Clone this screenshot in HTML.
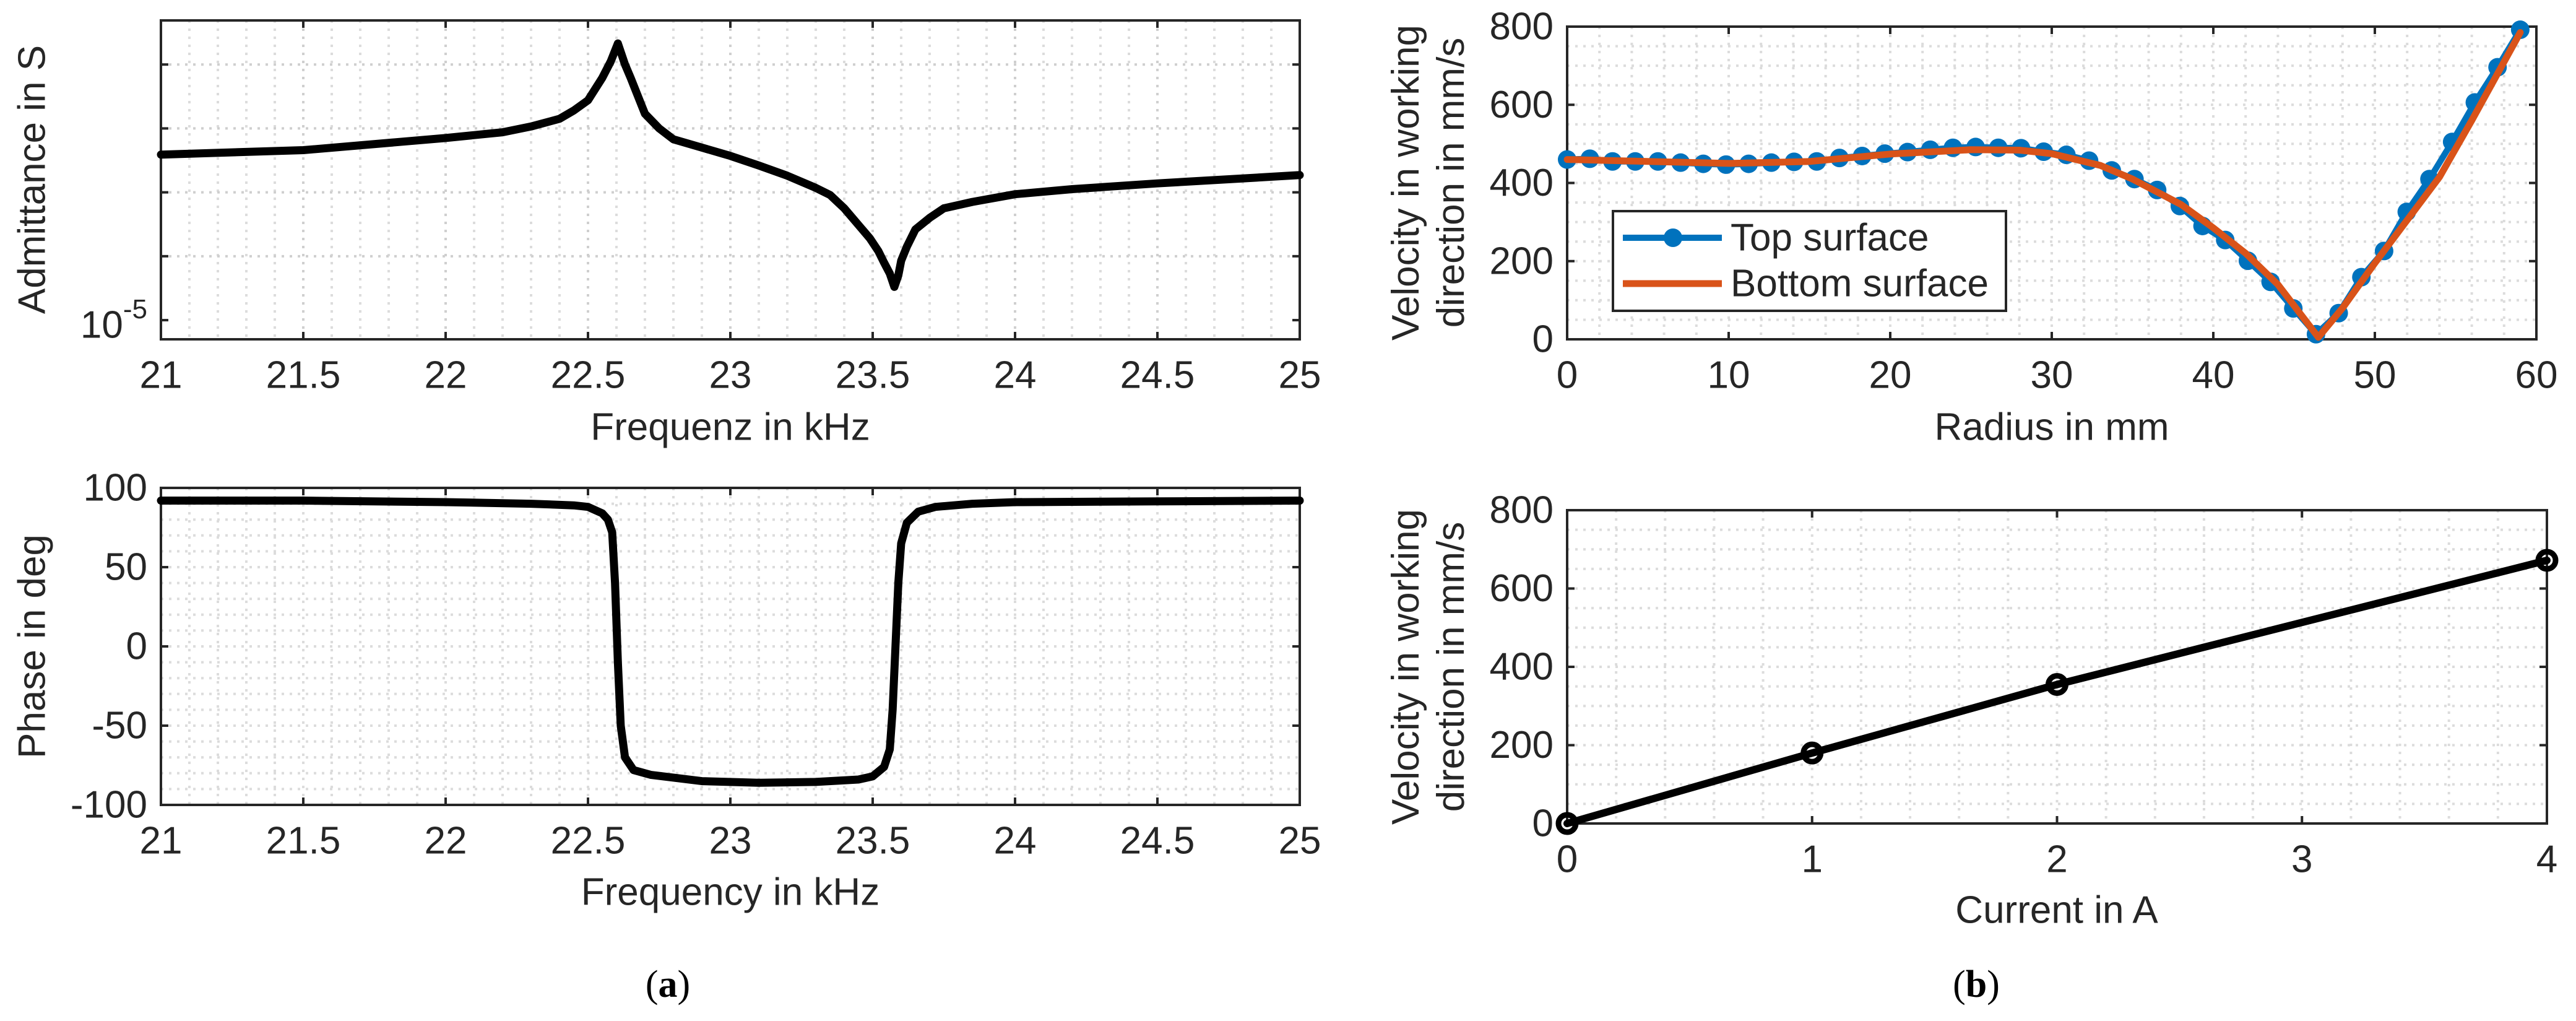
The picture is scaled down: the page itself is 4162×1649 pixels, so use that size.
<!DOCTYPE html>
<html><head><meta charset="utf-8">
<style>
html,body{margin:0;padding:0;background:#fff;}
svg{display:block;font-family:"Liberation Sans",Arial,sans-serif;}
</style></head>
<body>
<svg id="fig" width="4162" height="1649" viewBox="0 0 4162 1649" xmlns="http://www.w3.org/2000/svg"></svg>
<script>
// ---- Data: admittance (log10 of S) ----
const admFreq = [21, 21.5, 22, 22.2, 22.3, 22.4, 22.45, 22.5, 22.55, 22.58, 22.605, 22.63, 22.65, 22.7, 22.75, 22.8, 22.9, 23, 23.1, 23.2, 23.3, 23.35, 23.4, 23.45, 23.49, 23.52, 23.54, 23.56, 23.576, 23.59, 23.6, 23.62, 23.65, 23.7, 23.75, 23.85, 24, 24.2, 24.5, 25];
const admLog = [-4.741, -4.734, -4.715, -4.706, -4.697, -4.685, -4.672, -4.656, -4.621, -4.595, -4.567, -4.600, -4.621, -4.677, -4.700, -4.717, -4.730, -4.743, -4.758, -4.774, -4.793, -4.804, -4.825, -4.851, -4.872, -4.892, -4.910, -4.927, -4.948, -4.930, -4.907, -4.885, -4.858, -4.840, -4.825, -4.815, -4.803, -4.795, -4.786, -4.773];
// ---- Data: phase (deg) ----
const phFreq = [21, 21.5, 22, 22.3, 22.45, 22.5, 22.55, 22.57, 22.585, 22.595, 22.605, 22.615, 22.63, 22.66, 22.72, 22.9, 23.1, 23.3, 23.45, 23.5, 23.54, 23.56, 23.57, 23.58, 23.59, 23.6, 23.62, 23.66, 23.72, 23.85, 24, 24.5, 25];
const phVal = [92, 92, 91, 90, 89, 88, 84, 80, 72, 40, -10, -50, -70, -78, -81, -85, -86, -85.5, -84, -82, -76, -65, -40, 0, 40, 65, 78, 85, 88, 90, 91, 91.5, 92];
// ---- Data: velocity vs radius ----
const topR = [];
for (let i = 0; i < 43; i++) topR.push(i * 59 / 42);
const topV = [460, 462, 455, 455, 455, 452, 449, 447, 449, 452, 454, 455, 464, 469, 475, 479, 485, 490, 492, 490, 489, 480, 472, 457, 432, 410, 382, 341, 290, 254, 201, 147, 79, 13, 67, 159, 226, 326, 410, 505, 606, 696, 792];
const botR = [0, 5, 10, 15, 20, 25, 28, 30, 33, 35, 38, 40, 42, 44, 46.5, 48, 50, 52, 54, 56, 59];
const botV = [460, 455, 450, 455, 474, 485, 484, 475, 445, 410, 345, 285, 220, 140, 5, 80, 195, 305, 415, 560, 785];
// ---- Data: velocity vs current ----
const curA = [0, 1, 2, 4];
const curV = [0, 180, 355, 672];

const NS = "http://www.w3.org/2000/svg";
const svg = document.getElementById('fig');
function mk(tag, attrs, parent) {
  const e = document.createElementNS(NS, tag);
  for (const k in attrs) e.setAttribute(k, attrs[k]);
  (parent || svg).appendChild(e);
  return e;
}
function txt(s, x, y, size, anchor, parent, extra) {
  const t = mk('text', Object.assign({x: x, y: y, 'font-size': size, 'text-anchor': anchor || 'middle', fill: '#262626', 'dominant-baseline': 'central'}, extra || {}), parent);
  t.textContent = s;
  return t;
}
function range(a, b, s) { const r = []; for (let v = a; v <= b + 1e-9; v += s) r.push(Math.round(v * 1000) / 1000); return r; }

function axes(name, L, T, R, B, xmin, xmax, ymin, ymax) {
  const g = mk('g', {});
  
  
  const sx = v => L + (v - xmin) / (xmax - xmin) * (R - L);
  const sy = v => B - (v - ymin) / (ymax - ymin) * (B - T);
  return {g, sx, sy, L, T, R, B};
}
function grid(ax, xs, ys, strong) {
  const gg = mk('g', {}, ax.g);
  
  
  const st = {stroke: strong ? '#cfcfcf' : '#dcdcdc', 'stroke-width': 4, 'stroke-dasharray': '4 9'};
  xs.forEach(v => { const x = ax.sx(v); mk('line', Object.assign({x1: x, x2: x, y1: ax.T, y2: ax.B}, st), gg); });
  ys.forEach(v => { const y = ax.sy(v); mk('line', Object.assign({x1: ax.L, x2: ax.R, y1: y, y2: y}, st), gg); });
}
function frame(ax, xt, yt, xlabels, ylabels, tickLen) {
  const tl = tickLen || 12;
  const fg = mk('g', {}, ax.g);
  
  
  mk('rect', {x: ax.L, y: ax.T, width: ax.R - ax.L, height: ax.B - ax.T, fill: 'none', stroke: '#262626', 'stroke-width': 4}, fg);
  xt.forEach(v => { const x = ax.sx(v);
    mk('line', {x1: x, x2: x, y1: ax.B, y2: ax.B - tl, stroke: '#262626', 'stroke-width': 4}, fg);
    mk('line', {x1: x, x2: x, y1: ax.T, y2: ax.T + tl, stroke: '#262626', 'stroke-width': 4}, fg); });
  yt.forEach(v => { const y = ax.sy(v);
    mk('line', {x1: ax.L, x2: ax.L + tl, y1: y, y2: y, stroke: '#262626', 'stroke-width': 4}, fg);
    mk('line', {x1: ax.R, x2: ax.R - tl, y1: y, y2: y, stroke: '#262626', 'stroke-width': 4}, fg); });
  const xl = mk('g', {}, ax.g);
  
  
  xt.forEach((v, i) => { if (xlabels[i] !== '') txt(xlabels[i], ax.sx(v), ax.B + 58, 62, 'middle', xl); });
  const yl = mk('g', {}, ax.g);
  
  
  yt.forEach((v, i) => { if (ylabels[i] !== '') txt(ylabels[i], ax.L - 22, ax.sy(v), 62, 'end', yl); });
}
function polyline(ax, xs, ys, color, w, name) {
  const pts = xs.map((x, i) => ax.sx(x).toFixed(1) + ',' + ax.sy(ys[i]).toFixed(1)).join(' ');
  const p = mk('polyline', {points: pts, fill: 'none', stroke: color, 'stroke-width': w, 'stroke-linejoin': 'round', 'stroke-linecap': 'round'}, ax.g);
  
  
  return p;
}

// ===== Panel a top: admittance =====
const a1 = axes('admittance-plot', 260, 33, 2100, 548, 21, 25, -5.030, -4.531);
grid(a1, range(21, 25, 0.1), [], false);
grid(a1, range(21.5, 24.5, 0.5), [-4.9, -4.8, -4.7, -4.6], true);
frame(a1, range(21, 25, 0.5), [-5, -4.9, -4.8, -4.7, -4.6], ['21','21.5','22','22.5','23','23.5','24','24.5','25'], ['', '', '', '', '']);
{
  const t = mk('text', {x: 238, y: a1.sy(-5) + 8, 'font-size': 62, 'text-anchor': 'end', fill: '#262626', 'dominant-baseline': 'central'}, a1.g);
  
  
  t.innerHTML = '10<tspan dy="-26" font-size="44">-5</tspan>';
}
polyline(a1, admFreq, admLog, '#000', 13, 'admittance-curve');
{ const t = txt('Admittance in S', 52, 290, 62, 'middle', a1.g, {transform: 'rotate(-90 52 290)'});
    }
{ const t = txt('Frequenz in kHz', 1180, 690, 62, 'middle', a1.g);
    }

// ===== Panel a bottom: phase =====
const a2 = axes('phase-plot', 260, 788, 2100, 1300, 21, 25, -100, 100);
grid(a2, range(21, 25, 0.1), range(-90, 90, 10), false);
frame(a2, range(21, 25, 0.5), range(-100, 100, 50), ['21','21.5','22','22.5','23','23.5','24','24.5','25'], ['-100','-50','0','50','100']);
polyline(a2, phFreq, phVal, '#000', 13, 'phase-curve');
{ const t = txt('Phase in deg', 52, 1044, 62, 'middle', a2.g, {transform: 'rotate(-90 52 1044)'});
    }
{ const t = txt('Frequency in kHz', 1180, 1441, 62, 'middle', a2.g);
    }

// ===== Panel b top: velocity vs radius =====
const b1 = axes('velocity-radius-plot', 2532, 43, 4098, 548, 0, 60, 0, 800);
grid(b1, range(0, 60, 2), range(0, 800, 50), false);
frame(b1, range(0, 60, 10), range(0, 800, 200), ['0','10','20','30','40','50','60'], ['0','200','400','600','800']);
polyline(b1, topR, topV, '#0072BD', 10, 'top-surface-line');
{
  const mg = mk('g', {}, b1.g);
  
  
  topR.forEach((r, i) => {
    const c = mk('circle', {cx: b1.sx(r), cy: b1.sy(topV[i]), r: 15, fill: '#0072BD'}, mg);
    
    
  });
}
polyline(b1, botR, botV, '#D95319', 11, 'bottom-surface-line');
{
  const lg = mk('g', {}, b1.g);
  
  
  mk('rect', {x: 2606, y: 341, width: 635, height: 161, fill: '#fff', stroke: '#262626', 'stroke-width': 4}, lg);
  const e1 = mk('g', {}, lg);
  
  
  mk('line', {x1: 2622, x2: 2782, y1: 384, y2: 384, stroke: '#0072BD', 'stroke-width': 10}, e1);
  mk('circle', {cx: 2703, cy: 384, r: 15, fill: '#0072BD'}, e1);
  txt('Top surface', 2796, 384, 62, 'start', e1);
  const e2 = mk('g', {}, lg);
  
  
  mk('line', {x1: 2622, x2: 2782, y1: 458, y2: 458, stroke: '#D95319', 'stroke-width': 11}, e2);
  txt('Bottom surface', 2796, 458, 62, 'start', e2);
}
{ const t = mk('text', {x: 0, y: 0, 'font-size': 62, 'text-anchor': 'middle', fill: '#262626', transform: 'translate(2306 295) rotate(-90)'}, b1.g);
   
  t.innerHTML = '<tspan x="0" dy="-14">Velocity in working</tspan><tspan x="0" dy="73">direction in mm/s</tspan>'; }
{ const t = txt('Radius in mm', 3315, 690, 62, 'middle', b1.g);
    }

// ===== Panel b bottom: velocity vs current =====
const b2 = axes('velocity-current-plot', 2532, 824, 4115, 1330, 0, 4, 0, 800);
grid(b2, range(0, 4, 0.2), range(0, 800, 50), false);
frame(b2, range(0, 4, 1), range(0, 800, 200), ['0','1','2','3','4'], ['0','200','400','600','800']);
polyline(b2, curA, curV, '#000', 12, 'current-velocity-line');
{
  const mg = mk('g', {}, b2.g);
  
  
  curA.forEach((a, i) => {
    const c = mk('circle', {cx: b2.sx(a), cy: b2.sy(curV[i]), r: 14, fill: 'none', stroke: '#000', 'stroke-width': 9}, mg);
    
    
  });
}
{ const t = mk('text', {x: 0, y: 0, 'font-size': 62, 'text-anchor': 'middle', fill: '#262626', transform: 'translate(2306 1077) rotate(-90)'}, b2.g);
   
  t.innerHTML = '<tspan x="0" dy="-14">Velocity in working</tspan><tspan x="0" dy="73">direction in mm/s</tspan>'; }
{ const t = txt('Current in A', 3323, 1470, 62, 'middle', b2.g);
    }

// ===== Captions =====
{ const t = mk('text', {x: 1079, y: 1590, 'font-size': 62, 'text-anchor': 'middle', fill: '#000', 'font-family': '"Liberation Serif", serif', 'dominant-baseline': 'central'});
   
  t.innerHTML = '(<tspan font-weight="bold">a</tspan>)'; }
{ const t = mk('text', {x: 3193, y: 1590, 'font-size': 62, 'text-anchor': 'middle', fill: '#000', 'font-family': '"Liberation Serif", serif', 'dominant-baseline': 'central'});
   
  t.innerHTML = '(<tspan font-weight="bold">b</tspan>)'; }
</script>
</body></html>
